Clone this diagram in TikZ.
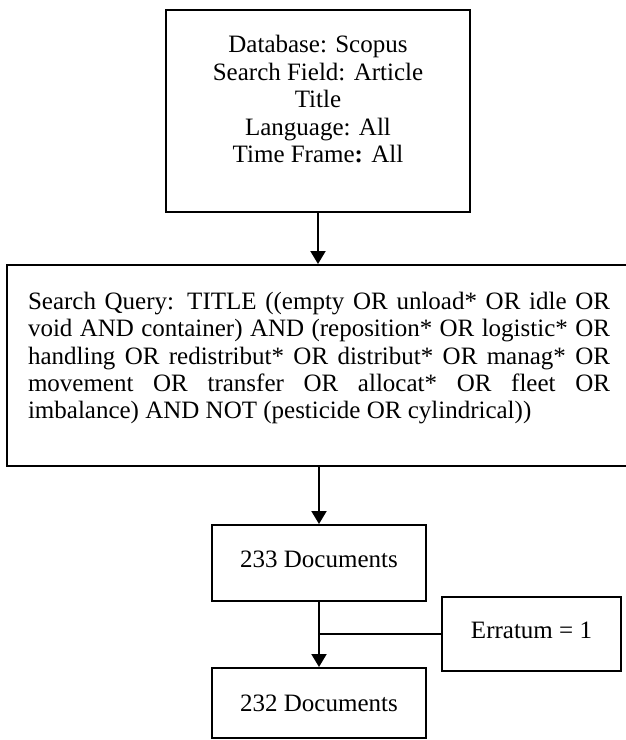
\documentclass[tikz,border=0pt]{standalone}
\usepackage{fontspec}
\setmainfont{Liberation Serif}
\usepackage{tikz}
\usetikzlibrary{positioning,arrows.meta}

\begin{document}
\begin{tikzpicture}[x=1pt, y=-1pt, line width=2pt,
    box/.style={draw, rectangle, inner sep=0pt},
    txt/.style={inner sep=0pt, font=\fontsize{25}{27.4}\selectfont},
    arr/.style={-{Triangle[length=13pt, width=15pt]}}]
    \useasboundingbox (0,0) rectangle (626,740);

    %riquadri
    \node[box, minimum width=304pt, minimum height=202pt] (db) at (318,111) {};
    \node[box, minimum width=620pt, minimum height=201pt] (query) at (317,365.5) {};
    \node[box, minimum width=214pt, minimum height=76pt] (n233) at (319,563) {};
    \node[box, minimum width=179pt, minimum height=74pt] (err) at (531.5,634) {};
    \node[box, minimum width=214pt, minimum height=70pt] (n232) at (319,703) {};

    %testi
    \node[txt, align=center, anchor=north] (dbtext) at (318,34.6)
        {Database: Scopus\\Search Field: Article\\Title\\Language: All\\Time Frame\textbf{:} All};
    \node[txt, align=left, anchor=north west] (querytext) at (27,291) {%
        \makebox[582pt][s]{Search Query: TITLE ((empty OR unload* OR idle OR}\\
        \makebox[582pt][s]{void AND container) AND (reposition* OR logistic* OR}\\
        \makebox[582pt][s]{handling OR redistribut* OR distribut* OR manag* OR}\\
        \makebox[582pt][s]{movement OR transfer OR allocat* OR fleet OR}\\
        imbalance) AND NOT (pesticide OR cylindrical))};
    \node[txt, anchor=base] (n233text) at (319,567.3) {233 Documents};
    \node[txt, anchor=base] (errtext) at (531.5,638.3) {Erratum = 1};
    \node[txt, anchor=base] (n232text) at (319,711.7) {232 Documents};

    %frecce
    \draw[arr] (db.south) -- (db.south |- query.north);
    \draw[arr] (n233.north |- query.south) -- (n233.north);
    \draw[arr] (n233.south) -- (n232.north);
    \draw (err.west) -- (err.west -| n233.south);
\end{tikzpicture}
\end{document}
